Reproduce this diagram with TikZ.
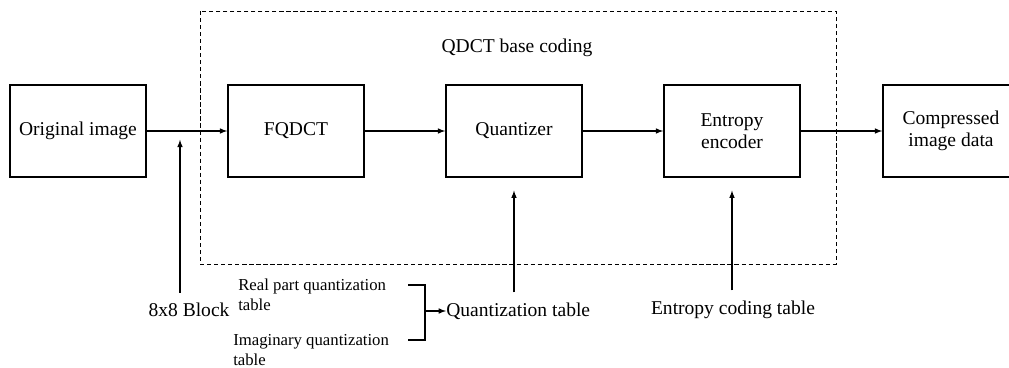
\documentclass[tikz,border=0pt]{standalone}
\usepackage{fontspec}
\setmainfont{Liberation Serif}
\usetikzlibrary{arrows}

\begin{document}
\begin{tikzpicture}[x=0.025cm,y=-0.025cm,
  blk/.style={draw,line width=1.1pt,minimum width=3.4cm,minimum height=2.3cm,align=center,font=\rmfamily\fontsize{13.9}{15.5}\selectfont,inner sep=0pt},
  lbl/.style={font=\rmfamily\fontsize{13.9}{15.5}\selectfont,inner sep=0pt},
  sml/.style={font=\rmfamily\fontsize{11.9}{14.2}\selectfont,inner sep=0pt,align=left},
  flow/.style={-latex,line width=.8pt}]
\useasboundingbox (0,0) rectangle (1009,368);
%coding frame
\draw [line width=.5pt,dash pattern=on 3pt off 2pt] (200,11) rectangle (836,264);
\node [lbl] (title) at (517,48) {QDCT base coding};
%boxes
\node [blk] (orig) at (78,131) {Original image};
\node [blk] (fqdct) at (296,131) {FQDCT};
\node [blk] (quant) at (514,131) {Quantizer};
\node [blk] (enc) at (732,131) {Entropy\\encoder};
\node [blk] (comp) at (951,131) {Compressed\\image data};
%inputs
\node [lbl] (block) at (189,310) {8x8 Block};
\node [sml,anchor=west] (realtab) at (238,295) {Real part quantization\\table};
\node [sml,anchor=west] (imagtab) at (233,350) {Imaginary quantization\\table};
\node [lbl,anchor=west] (qtab) at (446,311) {Quantization table};
\node [lbl] (etab) at (733,310) {Entropy coding table};
\path (180,131) coordinate (tap);
\path (408,285) coordinate (b0);
\path (425,285) coordinate (b1);
\path (425,340) coordinate (b2);
\path (408,340) coordinate (b3);
\path (425,311) coordinate (b4);
%main flow
\draw [flow] (orig) -- (fqdct);
\draw [flow] (fqdct) -- (quant);
\draw [flow] (quant) -- (enc);
\draw [flow] (enc) -- (comp);
%side inputs
\draw [flow,shorten >=2.2mm,shorten <=2.5mm] (block.north -| tap) -- (tap);
\draw [flow,shorten >=3.2mm,shorten <=2.5mm] (qtab.north -| quant) -- (quant.south);
\draw [flow,shorten >=3.2mm,shorten <=2.6mm] (etab.north -| enc) -- (enc.south);
\draw [line width=.8pt] (b0) -- (b1) -- (b2) -- (b3);
\draw [flow] (b4) -- (qtab.west);
\end{tikzpicture}
\end{document}
